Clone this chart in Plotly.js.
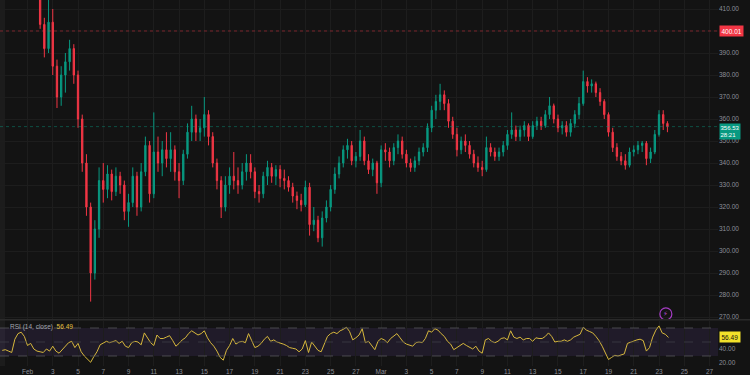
<!DOCTYPE html>
<html>
<head>
<meta charset="utf-8">
<script src="https://cdn.plot.ly/plotly-3.0.1.min.js"></script>
<style>
  html, body { margin: 0; padding: 0; background: #131313; }
  #chart { width: 750px; height: 375px; }
</style>
</head>
<body>
<div id="chart"></div>
<script>
// ---- Data (8h candles, starting 2025-02-02 00:00) ----
const candleStartISO = '2025-02-02T00:00:00Z';
const candleStepHours = 8;

const openVals = [
  418,403,392, 404,384,370, 380,386,392, 380,360,340, 320,290,310, 332,328,335, 327,334,330,
  318,322,334, 320,336,348, 326,345,340, 346,342,346, 336,332,344, 354,360,354, 356,362,352,
  340,332,320, 330,334,332, 330,336,340, 336,327,326, 334,338,334, 337,333,332, 329,325,323,
  321,329,312, 314,306,315, 320,328,335, 340,346,348, 341,343,350, 341,337,340,
  331,346,345, 341,347,350, 344,340,338, 341,345,347, 356,364,368, 371,367,359, 353,346,350,
  348,344,340, 338,337,347, 345,343,345, 348,353,355, 352,355,357, 352,357,359, 357,362,366,
  360,356,357, 354,358,362, 367,377,375, 376,372,368, 362,354,347, 343,341,339, 345,346,348,
  349,342,345, 353,362,358
];
const highVals = [
  422,406,416, 410,387,384, 390,396,394, 382,362,344, 322,314,338, 340,339,337, 338,336,332,
  326,338,336, 340,352,350, 363,352,350, 354,354,348, 340,346,358, 366,362,360, 370,364,354,
  342,334,334, 338,345,338, 340,344,344, 338,330,336, 341,340,339, 339,337,334, 331,327,326,
  332,331,320, 316,318,323, 330,338,343, 348,351,350, 345,355,352, 344,342,341,
  348,349,347, 349,353,352, 346,342,343, 347,349,358, 366,371,376, 373,369,361, 356,352,353,
  350,346,343, 341,352,349, 347,347,350, 355,363,357, 357,359,358, 359,361,361, 364,370,367,
  362,359,359, 360,364,370, 382,379,378, 377,374,369, 363,356,349, 345,344,347, 348,350,350,
  350,347,355, 364,364,359
];
const lowVals = [
  401,388,390, 380,365,366, 372,382,376, 356,336,316, 277,287,306, 322,324,323, 325,326,314,
  311,320,316, 318,334,322, 324,336,334, 338,336,332, 324,330,342, 350,350,350, 352,348,338,
  328,315,318, 326,328,326, 328,332,333, 324,322,324, 330,331,330, 329,328,327, 322,319,318,
  320,307,309, 304,302,313, 318,326,333, 338,342,339, 338,341,339, 335,334,326,
  329,341,338, 339,344,342, 338,336,336, 339,343,345, 354,360,364, 364,356,351, 343,344,345,
  342,338,336, 334,336,343, 341,341,343, 346,351,350, 350,352,350, 351,355,355, 356,360,358,
  354,353,352, 352,356,360, 366,372,372, 370,366,360, 352,345,341, 339,337,338, 343,344,345,
  339,340,344, 352,355,354
];
const closeVals = [
  403,392,404, 384,370,380, 386,392,380, 360,340,320, 290,310,332, 328,335,327, 334,330,318,
  322,334,320, 336,348,326, 345,340,346, 342,346,336, 332,344,354, 360,354,356, 362,352,340,
  332,320,330, 334,332,330, 336,340,336, 327,326,334, 338,334,337, 333,332,329, 325,323,321,
  329,312,314, 306,315,320, 328,335,340, 346,348,341, 343,350,341, 337,340,331,
  346,345,341, 347,350,344, 340,338,341, 345,347,356, 364,368,371, 367,359,353, 346,350,348,
  344,340,338, 337,347,345, 343,345,348, 353,355,352, 355,357,352, 357,359,357, 362,366,360,
  356,357,354, 358,362,367, 377,375,376, 372,368,362, 354,347,343, 341,339,345, 346,348,349,
  342,345,353, 362,358,356.53
];

// RSI(14, close), 6h samples starting 2025-01-30 00:00
const rsiStartISO = '2025-01-30T00:00:00Z';
const rsiStepHours = 6;
const rsiVals = [
  38,39,37,35,54,62,64,58,45,48,
  40,37,36,35,40,37,44,37,34,39,
  45,49,51,42,48,36,30,26,21,29,
  36,46,49,51,49,50,52,48,51,44,
  42,49,51,50,46,63,56,49,45,60,
  55,55,57,59,52,44,48,53,56,62,
  66,63,60,62,66,56,49,44,37,28,
  24,38,45,55,47,50,51,49,62,52,
  42,44,48,54,58,51,53,50,49,47,
  45,42,41,40,36,40,52,35,50,44,
  38,36,46,58,62,64,62,66,68,71,
  65,53,56,60,69,49,51,45,39,51,
  55,53,49,55,58,62,56,50,47,45,
  44,49,50,49,55,66,64,69,67,62,
  58,51,47,39,42,46,48,45,42,40,
  44,37,34,53,55,51,49,51,55,56,
  53,66,57,55,57,53,55,55,51,56,
  55,55,58,63,58,50,51,51,53,51,
  53,57,59,61,71,67,65,63,58,52,
  44,35,25,28,31,30,31,33,48,50,
  52,53,54,52,37,42,57,67,73,63,
  61,56.49
];

const xTickDates = [
  '2025-02-01','2025-02-03','2025-02-05','2025-02-07','2025-02-09','2025-02-11','2025-02-13',
  '2025-02-15','2025-02-17','2025-02-19','2025-02-21','2025-02-23','2025-02-25','2025-02-27',
  '2025-03-01','2025-03-03','2025-03-05','2025-03-07','2025-03-09','2025-03-11','2025-03-13',
  '2025-03-15','2025-03-17','2025-03-19','2025-03-21','2025-03-23','2025-03-25','2025-03-27'
];
const xTickLabels = [
  'Feb','3','5','7','9','11','13','15','17','19','21','23','25','27',
  'Mar','3','5','7','9','11','13','15','17','19','21','23','25','27'
];
// price-scale labels shown (400 is hidden behind the alert tag)
const priceTicks = [270,280,290,300,310,320,330,340,350,360,370,380,390,410];
const rsiTicks = [20, 40];

const alertPrice = 400.01;
const lastPrice = 356.53;
const lastRsi = 56.49;
const countdown = '28:21';

// ---- Build ----
function fmt(ms){ return new Date(ms).toISOString().slice(0,19).replace('T',' '); }
const c0 = Date.parse(candleStartISO);
const candleX = closeVals.map((_, i) => fmt(c0 + i*candleStepHours*3600e3));
const r0 = Date.parse(rsiStartISO);
const rsiX = rsiVals.map((_, i) => fmt(r0 + i*rsiStepHours*3600e3));

const UP = '#089981', DOWN = '#f23645';
const BG = '#131313', GRID = '#1d1d1d', TXT = '#8c8f98';
const FONT = 'Liberation Sans, Arial, sans-serif';

const traces = [
  {
    type: 'candlestick', x: candleX,
    open: openVals, high: highVals, low: lowVals, close: closeVals,
    increasing: { line: { color: UP, width: 1 }, fillcolor: UP },
    decreasing: { line: { color: DOWN, width: 1 }, fillcolor: DOWN },
    whiskerwidth: 0, xaxis: 'x', yaxis: 'y', hoverinfo: 'skip', showlegend: false
  },
  {
    type: 'scatter', mode: 'lines', x: rsiX, y: rsiVals,
    line: { color: '#d6b73c', width: 1 }, xaxis: 'x', yaxis: 'y2',
    hoverinfo: 'skip', showlegend: false
  }
];

const priceBottom = (366 - 319) / 366;
const rsiTop = 45 / 366;
const xRight = 750 / 718;

const layout = {
  width: 750, height: 375,
  margin: { l: 0, r: 32, t: 0, b: 9 },
  paper_bgcolor: BG, plot_bgcolor: BG,
  font: { family: FONT, color: TXT, size: 6.5 },
  showlegend: false,
  boxgap: 0.55,
  xaxis: {
    type: 'date', anchor: 'y2',
    range: ['2025-01-29 19:45', '2025-03-27 16:05'],
    tickmode: 'array', tickvals: xTickDates, ticktext: xTickLabels,
    tickfont: { size: 6.5, color: TXT, family: FONT },
    showgrid: true, gridcolor: GRID, gridwidth: 1,
    zeroline: false, showline: false, ticks: '',
    rangeslider: { visible: false }, fixedrange: true
  },
  yaxis: {
    domain: [priceBottom, 1], side: 'right', anchor: 'x',
    range: [269.09, 414.09], tickmode: 'array', tickvals: priceTicks, tickformat: '.2f',
    tickfont: { size: 6.5, color: TXT, family: FONT },
    showgrid: true, gridcolor: GRID, zeroline: false, showline: false, ticks: '',
    fixedrange: true
  },
  yaxis2: {
    domain: [0, rsiTop], side: 'right', anchor: 'x',
    range: [15.7, 80], tickmode: 'array', tickvals: rsiTicks, tickformat: '.2f',
    tickfont: { size: 6.5, color: TXT, family: FONT },
    showgrid: false, zeroline: false, showline: false, ticks: '',
    fixedrange: true
  },
  shapes: [
    { type: 'rect', xref: 'paper', yref: 'paper', x0: 0, x1: 5/718, y0: 0, y1: 1,
      fillcolor: '#1c1c1c', line: { width: 0 }, layer: 'below' },
    { type: 'line', xref: 'paper', yref: 'y', x0: 0, x1: 1, y0: 400, y1: 400,
      line: { color: GRID, width: 1 }, layer: 'below' },
    { type: 'rect', xref: 'paper', yref: 'y2', x0: 0, x1: 1, y0: 30, y1: 70,
      fillcolor: 'rgba(126,87,194,0.13)', line: { width: 0 }, layer: 'below' },
    { type: 'line', xref: 'paper', yref: 'y2', x0: 0, x1: 1, y0: 70, y1: 70,
      line: { color: '#55555c', width: 0.8, dash: 'dash' } },
    { type: 'line', xref: 'paper', yref: 'y2', x0: 0, x1: 1, y0: 50, y1: 50,
      line: { color: '#3e3e46', width: 0.8, dash: 'dash' } },
    { type: 'line', xref: 'paper', yref: 'y2', x0: 0, x1: 1, y0: 30, y1: 30,
      line: { color: '#55555c', width: 0.8, dash: 'dash' } },
    { type: 'line', xref: 'paper', yref: 'paper', x0: 0, x1: xRight, y0: priceBottom - 0.002, y1: priceBottom - 0.002,
      line: { color: '#2a2a2a', width: 1.5 } },
    { type: 'line', xref: 'paper', yref: 'y', x0: 0, x1: 1, y0: alertPrice, y1: alertPrice,
      line: { color: 'rgba(242,54,69,0.45)', width: 1, dash: 'dot' } },
    { type: 'line', xref: 'paper', yref: 'y', x0: 0, x1: 1, y0: lastPrice, y1: lastPrice,
      line: { color: 'rgba(8,153,129,0.45)', width: 1, dash: 'dot' } },
    { type: 'circle', xref: 'x', yref: 'y', xsizemode: 'pixel', ysizemode: 'pixel',
      xanchor: '2025-03-23 13:00', yanchor: 271.4, x0: -6, x1: 6, y0: -6, y1: 6,
      line: { color: '#a53cc4', width: 1.2 }, fillcolor: 'rgba(0,0,0,0)' }
  ],
  annotations: [
    { xref: 'paper', yref: 'y', x: 1, y: alertPrice, xanchor: 'left', yanchor: 'middle',
      text: alertPrice.toFixed(2), showarrow: false, bgcolor: '#f23645', borderpad: 1.5,
      font: { color: '#ffffff', size: 6.5, family: FONT }, xshift: 1 },
    { xref: 'paper', yref: 'y', x: 1, y: lastPrice, xanchor: 'left', yanchor: 'top',
      text: lastPrice.toFixed(2) + '<br>' + countdown, showarrow: false, bgcolor: '#089981', borderpad: 0.5,
      font: { color: '#ffffff', size: 6, family: FONT }, xshift: 1, yshift: 4, align: 'left' },
    { xref: 'paper', yref: 'y2', x: 1, y: lastRsi, xanchor: 'left', yanchor: 'middle',
      text: lastRsi.toFixed(2), showarrow: false, bgcolor: '#f2e12a', borderpad: 1.5,
      font: { color: '#131313', size: 6.5, family: FONT }, xshift: 1 },
    { xref: 'paper', yref: 'y2', x: 8/718, y: 71.4, xanchor: 'left', yanchor: 'middle',
      text: 'RSI (14, close)  <span style="color:#e3c443">' + lastRsi.toFixed(2) + '</span>',
      showarrow: false, font: { color: '#a3a6af', size: 6.5, family: FONT } },
    { xref: 'x', yref: 'y', x: '2025-03-23 13:00', y: 271.4, xanchor: 'center', yanchor: 'middle',
      text: '⚡', showarrow: false, font: { color: '#b04ad0', size: 7, family: 'DejaVu Sans' } }
  ]
};

Plotly.newPlot('chart', traces, layout, { staticPlot: true, displayModeBar: false });
</script>
</body>
</html>
